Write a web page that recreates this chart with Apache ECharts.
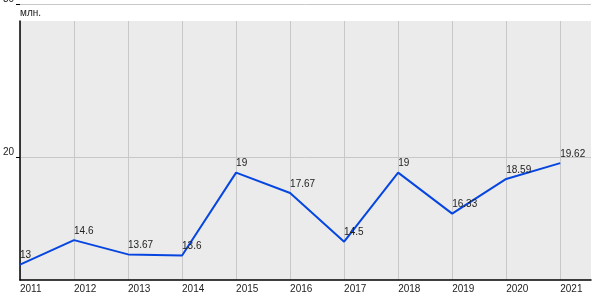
<!DOCTYPE html>
<html><head><meta charset="utf-8">
<script src="https://cdn.jsdelivr.net/npm/echarts@6/dist/echarts.min.js"></script>
<style>html,body{margin:0;padding:0;background:#fff}#c{width:600px;height:300px}</style>
</head><body><div id="c"></div>
<script>
const years = [2011, 2012, 2013, 2014, 2015, 2016, 2017, 2018, 2019, 2020, 2021];
const values = [13, 14.6, 13.67, 13.6, 19, 17.67, 14.5, 19, 16.33, 18.59, 19.62];
const yTicks = [20, 30];
const unitLabel = 'млн.';

const font = '"Liberation Sans", Arial, sans-serif';
const chart = echarts.init(document.getElementById('c'), null, {renderer: 'canvas'});
chart.setOption({
  animation: false,
  graphic: [{type: 'text', left: 20, top: 8, style: {text: unitLabel, font: '10px ' + font, fill: '#222'}}],
  grid: [
    {left: 20, right: 9, top: 4, bottom: 20, z: 2, outerBoundsMode: 'none', containLabel: false},
    {left: 20, right: 9, top: 21, bottom: 20, show: true, backgroundColor: '#ebebeb', borderWidth: 0, z: 0,
     outerBoundsMode: 'none', containLabel: false}
  ],
  xAxis: [
    {type: 'value', gridIndex: 0, min: 2011, max: 2021.57, interval: 1, z: 3,
     axisLine: {show: true, onZero: false, lineStyle: {color: '#000', width: 1.5}},
     axisTick: {show: false, customValues: years},
     splitLine: {show: false},
     axisLabel: {customValues: years, align: 'left', margin: 4, color: '#222', fontSize: 10, fontFamily: font,
                 formatter: v => String(v)}},
    {type: 'value', gridIndex: 1, min: 2011, max: 2021.57, interval: 1, z: 1,
     axisLine: {show: false}, axisTick: {show: false, customValues: years},
     axisLabel: {show: false},
     splitLine: {show: true, lineStyle: {color: '#c8c8c8', width: 1}}}
  ],
  yAxis: [
    {type: 'value', gridIndex: 0, min: 12, max: 30, z: 2,
     axisLine: {show: false},
     axisTick: {show: true, customValues: yTicks, length: 4, lineStyle: {color: '#000'}},
     axisLabel: {customValues: yTicks, margin: 6, verticalAlign: 'bottom', color: '#222', fontSize: 10, fontFamily: font},
     splitLine: {show: true, lineStyle: {color: '#c8c8c8', width: 1}}},
    {type: 'value', gridIndex: 1, min: 0, max: 1, z: 3,
     axisLine: {show: true, lineStyle: {color: '#000', width: 1.5}},
     axisTick: {show: false}, axisLabel: {show: false}, splitLine: {show: false}}
  ],
  series: [{
    type: 'line', xAxisIndex: 0, yAxisIndex: 0, z: 5,
    data: years.map((y, i) => [y, values[i]]),
    symbol: 'circle', symbolSize: 0, showSymbol: true,
    lineStyle: {color: '#0646e0', width: 2},
    itemStyle: {color: '#0646e0'},
    label: {show: true, position: [0, 0], align: 'left', verticalAlign: 'bottom', offset: [0, -4],
            color: '#222', fontSize: 10, fontFamily: font,
            formatter: p => String(p.value[1])}
  }]
});
</script></body></html>
